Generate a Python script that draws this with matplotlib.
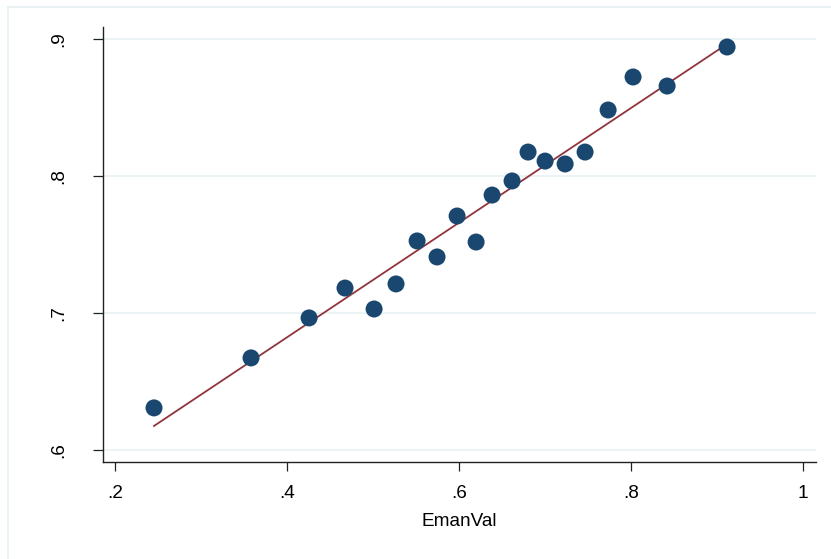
import matplotlib
matplotlib.use("Agg")
import matplotlib.pyplot as plt
from matplotlib.lines import Line2D

plt.rcParams['font.family'] = ['Liberation Sans', 'DejaVu Sans']

# Binned scatter data
eman_val = [0.2453, 0.3581, 0.4256, 0.4674, 0.5012, 0.5267, 0.5512, 0.5744,
            0.5977, 0.6198, 0.6384, 0.6616, 0.6802, 0.7000, 0.7233, 0.7465,
            0.7733, 0.8023, 0.8419, 0.9116]
y_val = [0.6307, 0.6672, 0.6964, 0.7182, 0.7029, 0.7212, 0.7526, 0.7409,
         0.7708, 0.7518, 0.7861, 0.7964, 0.8175, 0.8109, 0.8088, 0.8175,
         0.8482, 0.8723, 0.8657, 0.8942]
# Fitted line endpoints
fit_x = [0.2453, 0.9116]
fit_y = [0.6175, 0.8964]

x_ticks = [0.2, 0.4, 0.6, 0.8, 1.0]
x_ticklabels = ['.2', '.4', '.6', '.8', '1']
y_ticks = [0.6, 0.7, 0.8, 0.9]
y_ticklabels = ['.6', '.7', '.8', '.9']

W, H = 831, 559
fig = plt.figure(figsize=(W / 100, H / 100), dpi=100)
fig.patch.set_facecolor('white')

# faint outer border (top and left)
fig.add_artist(Line2D([7.5 / W, 7.5 / W], [0, 1 - 7 / H], transform=fig.transFigure,
                      color='#eaf2f3', lw=1.5))
fig.add_artist(Line2D([7.5 / W, 1], [1 - 7 / H, 1 - 7 / H], transform=fig.transFigure,
                      color='#eaf2f3', lw=1.5))

left, right, top, bottom = 103, 816, 27, 462
ax = fig.add_axes([left / W, 1 - bottom / H, (right - left) / W, (bottom - top) / H])

ax.set_xlim(0.186, 1.015)
ax.set_ylim(0.5912, 0.9088)

for yt in y_ticks:
    ax.axhline(yt, color='#eaf2f3', lw=1.3, zorder=0)

ax.plot(fit_x, fit_y, color='#90353b', lw=1.3, zorder=2)
ax.scatter(eman_val, y_val, s=150, color='#1a476f', edgecolors='none', zorder=3)

ax.set_xticks(x_ticks)
ax.set_xticklabels(x_ticklabels, fontsize=13.7)
ax.set_yticks(y_ticks)
ax.set_yticklabels(y_ticklabels, fontsize=13.7, rotation=90, va='center')

ax.tick_params(axis='x', length=6.5, width=0.9, color='#222222', pad=10)
ax.tick_params(axis='y', length=7.5, width=0.9, color='#222222', pad=18)

for s in ['top', 'right']:
    ax.spines[s].set_visible(False)
for s in ['left', 'bottom']:
    ax.spines[s].set_color('#222222')
    ax.spines[s].set_linewidth(1.0)

ax.set_xlabel('EmanVal', fontsize=13.7, labelpad=8)

fig.savefig('out.png', dpi=100, facecolor='white')
